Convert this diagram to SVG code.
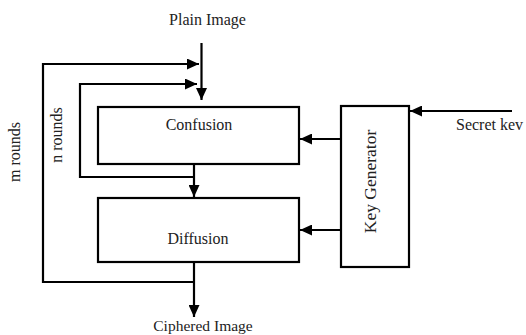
<svg xmlns="http://www.w3.org/2000/svg" width="526" height="335" viewBox="0 0 526 335">
<style>
.box{fill:#fff;stroke:#000;stroke-width:2.2}
.ln{fill:none;stroke:#000;stroke-width:2.2}
text{font-family:"Liberation Serif","Times New Roman",serif;font-size:16px;fill:#222}
</style>
<defs>
<marker id="ah" markerUnits="userSpaceOnUse" markerWidth="12" markerHeight="11" refX="12" refY="5.5" orient="auto">
<path d="M0,0 L12,5.5 L0,11 z" fill="#000"/>
</marker>
</defs>
<rect width="526" height="335" fill="#fff"/>
<g id="connectors">
<path class="ln" d="M201.5,43 V100" marker-end="url(#ah)"/>
<path class="ln" d="M194,282 H43 V64 H199" marker-end="url(#ah)"/>
<path class="ln" d="M194,177 H80 V84 H197" marker-end="url(#ah)"/>
<path class="ln" d="M194,164 V197" marker-end="url(#ah)"/>
<path class="ln" d="M194,262 V317" marker-end="url(#ah)"/>
<path class="ln" d="M341,139 H300" marker-end="url(#ah)"/>
<path class="ln" d="M341,230 H300" marker-end="url(#ah)"/>
<path class="ln" d="M512,111 H410" marker-end="url(#ah)"/>
</g>
<g id="confusion">
<rect class="box" x="98" y="107" width="201" height="57"/>
<text x="199" y="130" text-anchor="middle">Confusion</text>
</g>
<g id="diffusion">
<rect class="box" x="98" y="198" width="201" height="64"/>
<text x="198" y="244" text-anchor="middle">Diffusion</text>
</g>
<g id="keygen">
<rect class="box" x="341" y="106" width="68" height="161"/>
<text transform="translate(376,181.5) rotate(-90)" text-anchor="middle" style="font-size:17.5px">Key Generator</text>
</g>
<g id="labels">
<text x="207.5" y="25" text-anchor="middle">Plain Image</text>
<text x="456" y="130">Secret kev</text>
<text x="203" y="331" text-anchor="middle" style="font-size:15.5px">Ciphered Image</text>
<text transform="translate(20,152) rotate(-90)" text-anchor="middle">m rounds</text>
<text transform="translate(62,135) rotate(-90)" text-anchor="middle">n rounds</text>
</g>
</svg>
